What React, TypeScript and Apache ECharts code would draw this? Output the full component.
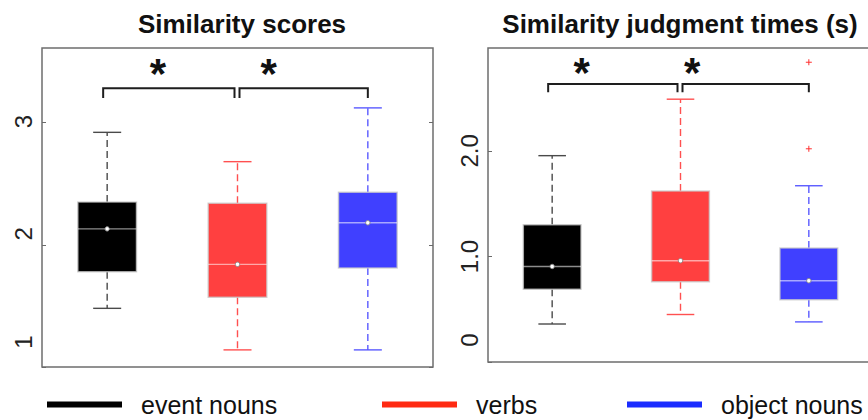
import React, { useEffect, useRef } from 'react';
import * as echarts from 'echarts';

const categories = ['event nouns', 'verbs', 'object nouns'];
const boxColors = ['#000000', '#ff4040', '#4040ff'];
const whiskerColors = ['#4a4a4a', '#ff5050', '#5a5aff'];
const legendColors = ['#000000', '#ff2a12', '#1a2cff'];

// [whisker low, Q1, median, Q3, whisker high]
const scoreBoxes = [
  [1.48, 1.78, 2.13, 2.35, 2.92],
  [1.14, 1.57, 1.84, 2.34, 2.68],
  [1.14, 1.81, 2.18, 2.43, 3.12],
];
const timeBoxes = [
  [0.36, 0.69, 0.905, 1.3, 1.955],
  [0.45, 0.76, 0.96, 1.62, 2.49],
  [0.38, 0.59, 0.77, 1.08, 1.67],
];
// [category index, value]
const timeOutliers = [
  [2, 2.84],
  [2, 2.02],
];

const scoreTicks = [1, 2, 3];
const timeTicks = [0, 1, 2];
const scoreRange = [1, 3.61];
const timeRange = [0, 2.975];

// [from category, to category, bracket top, bracket foot]
const scoreBrackets = [
  [0, 1, 3.28, 3.2],
  [1, 2, 3.28, 3.2],
];
const timeBrackets = [
  [0, 1, 2.633, 2.555],
  [1, 2, 2.633, 2.555],
];
// [x position (category units), y value]
const scoreStars = [
  [0.39, 3.4],
  [1.24, 3.4],
];
const timeStars = [
  [0.23, 2.745],
  [1.09, 2.745],
];

const titles = ['Similarity scores', 'Similarity judgment times (s)'];
const FONT = '"Liberation Sans", Arial, Helvetica, sans-serif';

function makeBoxRender(fill: string, whisker: string) {
  return (params: any, api: any) => {
    const idx = api.value(0);
    const lo = api.coord([idx, api.value(1)]);
    const q1 = api.coord([idx, api.value(2)]);
    const med = api.coord([idx, api.value(3)]);
    const q3 = api.coord([idx, api.value(4)]);
    const hi = api.coord([idx, api.value(5)]);
    const band = api.size([1, 0])[0];
    const boxW = band * 0.45;
    const capW = band * 0.215;
    const x = lo[0];
    const dash = { stroke: whisker, lineWidth: 1.4, lineDash: [7, 4] };
    const solid = { stroke: whisker, lineWidth: 1.4 };
    return {
      type: 'group',
      children: [
        { type: 'line', shape: { x1: x, y1: q3[1], x2: x, y2: hi[1] }, style: dash },
        { type: 'line', shape: { x1: x, y1: q1[1], x2: x, y2: lo[1] }, style: dash },
        { type: 'line', shape: { x1: x - capW / 2, y1: hi[1], x2: x + capW / 2, y2: hi[1] }, style: solid },
        { type: 'line', shape: { x1: x - capW / 2, y1: lo[1], x2: x + capW / 2, y2: lo[1] }, style: solid },
        {
          type: 'rect',
          shape: { x: x - boxW / 2, y: q3[1], width: boxW, height: q1[1] - q3[1] },
          style: { fill, stroke: 'rgba(200,200,200,0.75)', lineWidth: 1.5 },
        },
        {
          type: 'line',
          shape: { x1: x - boxW / 2, y1: med[1], x2: x + boxW / 2, y2: med[1] },
          style: { stroke: 'rgba(255,255,255,0.55)', lineWidth: 1.4 },
        },
        {
          type: 'circle',
          shape: { cx: x, cy: med[1], r: 2.2 },
          style: { fill: '#ffffff', stroke: '#8a8a8a', lineWidth: 1 },
        },
      ],
    };
  };
}

function bracketRender(params: any, api: any) {
  const from = api.value(0);
  const to = api.value(1);
  const top = api.value(2);
  const foot = api.value(3);
  const a = api.coord([from, top]);
  const b = api.coord([to, top]);
  const f = api.coord([from, foot]);
  const x1 = a[0] + (from === 0 ? -4 : 2);
  const x2 = b[0] + (to === 1 ? -3 : 0);
  return {
    type: 'polyline',
    shape: { points: [[x1, f[1]], [x1, a[1]], [x2, a[1]], [x2, f[1]]] },
    style: { stroke: '#1e1e1e', lineWidth: 2, fill: 'none' },
  };
}

function starRender(params: any, api: any) {
  const p = api.coord([api.value(0), api.value(1)]);
  return {
    type: 'text',
    x: p[0],
    y: p[1],
    style: {
      text: '*',
      fontSize: 42,
      fontWeight: 'bold',
      fontFamily: FONT,
      fill: '#111111',
      align: 'center',
      verticalAlign: 'middle',
    },
  };
}

function outlierRender(params: any, api: any) {
  const p = api.coord([api.value(0), api.value(1)]);
  const s = 3;
  const st = { stroke: '#ff3030', lineWidth: 1 };
  return {
    type: 'group',
    children: [
      { type: 'line', shape: { x1: p[0] - s, y1: p[1], x2: p[0] + s, y2: p[1] }, style: st },
      { type: 'line', shape: { x1: p[0], y1: p[1] - s, x2: p[0], y2: p[1] + s }, style: st },
    ],
  };
}

const isWhole = (v: number) => Math.abs(v - Math.round(v)) < 1e-9;

export default function App() {
  const ref = useRef<HTMLDivElement>(null);

  useEffect(() => {
    if (!ref.current) return;
    const chart = echarts.init(ref.current, undefined, { renderer: 'svg' });

    const grids = [
      { left: 42, top: 48, width: 391, height: 319 },
      { left: 488, top: 48, width: 385, height: 314 },
    ];

    const tickStyle = { color: '#6a6a6a', width: 1 };
    const labelBase = { fontSize: 24, color: '#222', fontFamily: FONT };

    const panels = [
      {
        ticks: scoreTicks,
        range: scoreRange,
        fmt: (v: number) => (isWhole(v) ? `{t${Math.round(v)}|${v}}` : ''),
        rich: {
          t1: { ...labelBase, padding: [0, 0, 0, 50] },
          t2: { ...labelBase, padding: [0, 0, 0, 22] },
          t3: { ...labelBase, padding: [0, 0, 0, 2] },
        },
      },
      {
        ticks: timeTicks,
        range: timeRange,
        fmt: (v: number) =>
          isWhole(v) ? `{t${Math.round(v)}|${v === 0 ? '0' : v.toFixed(1)}}` : '',
        rich: {
          t0: { ...labelBase, padding: [0, 0, 0, 44] },
          t1: { ...labelBase, padding: [0, 0, 0, 0] },
          t2: { ...labelBase, padding: [0, 0, 0, 0] },
        },
      },
    ];

    const yAxes: any[] = [];
    panels.forEach((p, gi) => {
      yAxes.push({
        type: 'value',
        gridIndex: gi,
        position: 'left',
        min: p.range[0],
        max: p.range[1],
        interval: 1,
        axisLine: { show: false, onZero: false },
        axisTick: { show: true, inside: true, length: 4, lineStyle: tickStyle, customValues: p.ticks },
        axisLabel: {
          rotate: 90,
          ...labelBase,
          margin: 7,
          formatter: p.fmt,
          rich: p.rich,
          customValues: p.ticks,
        },
        splitLine: { show: false },
      });
      yAxes.push({
        type: 'value',
        gridIndex: gi,
        position: 'right',
        min: p.range[0],
        max: p.range[1],
        interval: 1,
        axisLine: { show: false, onZero: false },
        axisTick: { show: true, inside: true, length: 4, lineStyle: tickStyle, customValues: p.ticks },
        axisLabel: { show: false },
        splitLine: { show: false },
      });
    });

    const xAxes = [0, 1].map((gi) => ({
      type: 'value',
      gridIndex: gi,
      min: -0.5,
      max: 2.5,
      show: false,
      axisLine: { show: false, onZero: false },
    }));

    const series: any[] = [];
    [scoreBoxes, timeBoxes].forEach((boxes, gi) => {
      boxes.forEach((b, i) => {
        series.push({
          type: 'custom',
          name: categories[i],
          xAxisIndex: gi,
          yAxisIndex: gi * 2,
          itemStyle: { color: legendColors[i] },
          data: [[i, ...b]],
          encode: { x: 0, y: [1, 2, 3, 4, 5] },
          renderItem: makeBoxRender(boxColors[i], whiskerColors[i]),
          silent: true,
        });
      });
    });
    series.push({
      type: 'custom',
      xAxisIndex: 1,
      yAxisIndex: 2,
      data: timeOutliers,
      encode: { x: 0, y: 1 },
      renderItem: outlierRender,
      silent: true,
    });
    [scoreBrackets, timeBrackets].forEach((br, gi) => {
      series.push({
        type: 'custom',
        xAxisIndex: gi,
        yAxisIndex: gi * 2,
        data: br,
        encode: { x: [0, 1], y: [2, 3] },
        renderItem: bracketRender,
        silent: true,
      });
    });
    [scoreStars, timeStars].forEach((st, gi) => {
      series.push({
        type: 'custom',
        xAxisIndex: gi,
        yAxisIndex: gi * 2,
        data: st,
        encode: { x: 0, y: 1 },
        renderItem: starRender,
        silent: true,
      });
    });

    const legendLefts = [47, 382, 627];

    chart.setOption({
      animation: false,
      backgroundColor: '#ffffff',
      title: [
        {
          text: titles[0],
          left: 242,
          top: 11,
          textAlign: 'center',
          padding: 0,
          textStyle: { fontSize: 26, fontWeight: 'bold', color: '#111', fontFamily: FONT },
        },
        {
          text: titles[1],
          left: 680,
          top: 11,
          textAlign: 'center',
          padding: 0,
          textStyle: { fontSize: 26, fontWeight: 'bold', color: '#111', fontFamily: FONT },
        },
      ],
      grid: grids.map((g) => ({
        ...g,
        show: true,
        borderColor: '#6e6e6e',
        borderWidth: 1.5,
        backgroundColor: 'transparent',
        outerBoundsMode: 'none',
      })),
      xAxis: xAxes,
      yAxis: yAxes,
      legend: categories.map((name, i) => ({
        data: [{ name, itemStyle: { color: legendColors[i] } }],
        left: legendLefts[i],
        top: 392,
        padding: 0,
        icon: 'rect',
        itemWidth: 75,
        itemHeight: 6,
        selectedMode: false,
        textStyle: {
          fontSize: 25,
          lineHeight: 25,
          color: '#111',
          fontFamily: FONT,
          padding: [0, 0, 0, 14],
        },
      })),
      series,
    });

    return () => chart.dispose();
  }, []);

  return (
    <div
      ref={ref}
      style={{ position: 'absolute', left: 0, top: 0, width: 868, height: 420, background: '#fff' }}
    />
  );
}
